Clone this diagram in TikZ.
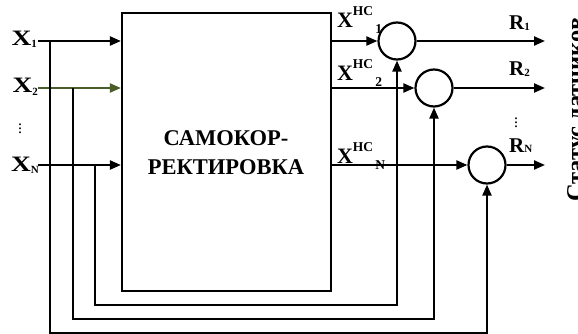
\documentclass[tikz,border=0pt]{standalone}
\usepackage{fontspec}
\setmainfont{Liberation Serif}
\usetikzlibrary{arrows.meta}
\definecolor{olive2}{RGB}{74,94,42}
\newcommand{\fs}[1]{\fontsize{#1}{#1}\selectfont}
\newcommand{\wideX}{\scalebox{1.25}[1]{X}}
\begin{document}
\begin{tikzpicture}[x=1pt,y=-1pt, line width=2.2pt,
  arr/.style={-{Triangle[length=11pt,width=9pt]}},
  sum/.style={circle,draw,minimum size=37pt,inner sep=0pt},
  lbl/.style={inner sep=0pt, font=\bfseries\fs{21}},
  inlbl/.style={inner sep=0pt, font=\bfseries\fs{22}},
  biglbl/.style={inner sep=0pt, font=\bfseries\fs{22}},
 ]
\useasboundingbox (0,0) rectangle (578,334);
\clip (0,0) rectangle (578,334);
% main block
\node[draw, minimum width=209pt, minimum height=278pt, inner sep=0pt] (box) at (226.5,152) {};
\node[font=\bfseries\fs{22.5}, align=center, inner sep=0pt] (txt) at (226,153) {САМОКОР-\\[6.5pt]РЕКТИРОВКА};
% summing circles
\node[sum] (c1) at (397,41) {};
\node[sum] (c2) at (434,88) {};
\node[sum] (cN) at (487,165) {};
% input labels
\node[inlbl, anchor=base east] (x1) at (38,46) {\wideX\raisebox{-2pt}{\fs{11}1}};
\node[inlbl, anchor=base east] (x2) at (39,93) {\wideX\raisebox{-2pt}{\fs{11}2}};
\node[inlbl, anchor=base east] (xN) at (40,171) {\wideX\raisebox{-2pt}{\fs{11}N}};
\node[inner sep=0pt, font=\fs{16}] (vd1) at (20,126) {$\vdots$};
% input lines
\coordinate (i1) at (38,41);
\coordinate (i2) at (38,88);
\coordinate (iN) at (38,165);
\draw[arr] (i1) -- (i1 -| box.west);
\draw[arr, olive2] (i2) -- (i2 -| box.west);
\draw[arr] (iN) -- (iN -| box.west);
% feedback lines
\coordinate (j1) at (50,41);
\coordinate (j2) at (73,88);
\coordinate (jN) at (95,165);
\coordinate (b1) at (50,333);
\coordinate (b2) at (73,319);
\coordinate (bN) at (95,305);
\draw[arr] (j1) -- (b1) -| (cN.south);
\draw[arr] (j2) -- (b2) -| (c2.south);
\draw[arr] (jN) -- (bN) -| (c1.south);
% outputs of the block
\draw[arr] (box.east |- c1) -- (c1.west);
\draw[arr] (box.east |- c2) -- (c2.west);
\draw[arr] (box.east |- cN) -- (cN.west);
\node[biglbl, anchor=base west] (h1) at (336,28) {X\raisebox{12pt}{\fs{13.5}HC}\raisebox{-6pt}{\fs{13.5}\,1}};
\node[biglbl, anchor=base west] (h2) at (336,81) {X\raisebox{12pt}{\fs{13.5}HC}\raisebox{-6pt}{\fs{13.5}\,2}};
\node[biglbl, anchor=base west] (hN) at (336,163) {X\raisebox{12pt}{\fs{13.5}HC}\raisebox{-6pt}{\fs{13.5}\,N}};
% result outputs
\coordinate (o1) at (545,41);
\coordinate (o2) at (545,88);
\coordinate (oN) at (545,165);
\draw[arr] (c1.east) -- (o1);
\draw[arr] (c2.east) -- (o2);
\draw[arr] (cN.east) -- (oN);
\node[lbl, anchor=base west] (r1) at (508,30) {R\raisebox{-1pt}{\fs{11}1}};
\node[lbl, anchor=base west] (r2) at (508,76) {R\raisebox{-1pt}{\fs{11}2}};
\node[lbl, anchor=base west] (rN) at (508,152) {R\raisebox{-1pt}{\fs{11}N}};
\node[inner sep=0pt, font=\fs{16}] (vd2) at (516,120) {$\vdots$};
% status text (cut at the right edge)
\node[rotate=90, anchor=north west, inner sep=0pt, font=\bfseries\fs{24.5}] (st) at (566,203) {Статус датчиков};
\end{tikzpicture}
\end{document}
